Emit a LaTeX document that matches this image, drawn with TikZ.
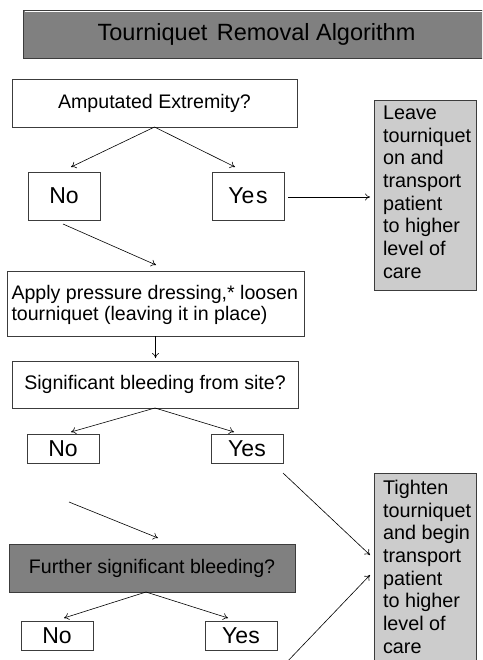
\documentclass[tikz,border=0pt]{standalone}
\usepackage{fontspec}
\setmainfont{Liberation Sans}
\usetikzlibrary{arrows.meta}
\definecolor{darkfill}{RGB}{128,128,128}
\definecolor{lightfill}{RGB}{204,204,204}
\definecolor{edge}{RGB}{60,60,60}
\tikzset{
  box/.style={draw=edge, line width=0.9pt, rectangle, inner sep=0pt, outer sep=0pt, align=center},
  qfont/.style={font=\fontsize{19.6}{21.7}\selectfont},
  afont/.style={font=\fontsize{23}{26}\selectfont},
  sidetext/.style={inner sep=0pt, outer sep=0pt, align=left, anchor=north west, font=\fontsize{19.8}{22.7}\selectfont},
  conn/.style={draw=black, line width=0.6pt, -{To[length=5pt,width=7pt]}},
}
\begin{document}
\begin{tikzpicture}[x=1pt,y=-1pt]
\useasboundingbox (0,0) rectangle (482,660);
\clip (0,0) rectangle (482,660);
% title
\node[box, fill=darkfill, minimum width=467, minimum height=48, font=\fontsize{23.5}{26}\selectfont] (title) at (256.5,34) {Tourniquet\hspace{3pt} Removal Algorithm};
\draw[white, line width=1.2pt] ([xshift=1.5pt,yshift=-1.8pt]title.north west) -- ([yshift=-1.8pt]title.north east);
% first question
\node[box, qfont, minimum width=285, minimum height=48] (amp) at (154.5,103) {Amputated Extremity?};
\node[box, afont, minimum width=72, minimum height=48] (no1) at (64,196) {No};
\node[box, afont, minimum width=72, minimum height=48] (yes1) at (248,196) {Ye\kern1.5pt s};
\node[box, fill=lightfill, minimum width=102, minimum height=190] (leave) at (425.5,195) {};
\node[sidetext] (leavetxt) at (383,105.7) {Leave\\tourniquet\\on and\\transport\\patient\\to higher\\level of\\care};
% apply
\node[box, minimum width=297, minimum height=65] (apply) at (155.5,303.5) {};
\node[inner sep=0pt, outer sep=0pt, anchor=west, align=left, qfont] (applytxt) at (11.5,305) {Apply pressure dressing,* loosen\\tourniquet (leaving it in place)};
% second question
\node[box, qfont, minimum width=286, minimum height=47] (sig) at (155,384.5) {Significant bleeding from site?};
\node[box, afont, minimum width=72, minimum height=29] (no2) at (63,448.5) {No};
\node[box, afont, minimum width=72, minimum height=29] (yes2) at (247,448.5) {Yes};
\node[box, fill=lightfill, minimum width=102, minimum height=240] (tight) at (425.5,593.3) {};
\node[sidetext] (tighttxt) at (383,480) {Tighten\\tourniquet\\and begin\\transport\\patient\\to higher\\level of\\care};
% third question
\node[box, qfont, fill=darkfill, minimum width=286, minimum height=48] (further) at (152,568) {Further significant bleeding?};
\node[box, afont, minimum width=72, minimum height=29] (no3) at (57,635.5) {No};
\node[box, afont, minimum width=72, minimum height=29] (yes3) at (241,635.5) {Yes};
% free connector ends
\coordinate (a1) at (71,167);
\coordinate (a2) at (235,167);
\coordinate (b0) at (63,224);
\coordinate (b1) at (156,265);
\coordinate (c1) at (71,432);
\coordinate (c2) at (234,432);
\coordinate (d0) at (283,473);
\coordinate (d1) at (370,555);
\coordinate (e0) at (69,502);
\coordinate (e1) at (158,538);
\coordinate (f1) at (64,618);
\coordinate (f2) at (228,618);
\coordinate (g0) at (285,664);
\coordinate (g1) at (370,575);
\coordinate (h0) at (288,197);
\coordinate (h1) at (370,197);
% connectors
\draw[conn] (amp.south) -- (a1);
\draw[conn] (amp.south) -- (a2);
\draw[conn] (h0) -- (h1);
\draw[conn] (b0) -- (b1);
\draw[conn] (apply.south) -- ([yshift=-22pt]apply.south);
\draw[conn] (sig.south) -- (c1);
\draw[conn] (sig.south) -- (c2);
\draw[conn] (d0) -- (d1);
\draw[conn] (e0) -- (e1);
\draw[conn] ([xshift=-6pt]further.south) -- (f1);
\draw[conn] ([xshift=-6pt]further.south) -- (f2);
\draw[conn] (g0) -- (g1);
\end{tikzpicture}
\end{document}
